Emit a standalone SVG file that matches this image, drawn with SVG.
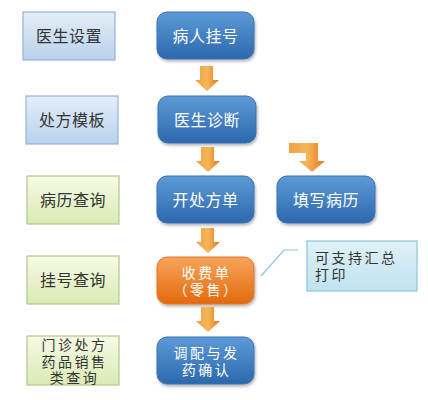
<svg xmlns="http://www.w3.org/2000/svg" width="428" height="400" viewBox="0 0 428 400">
<defs>
<linearGradient id="gBlue" x1="0" y1="0" x2="0" y2="1"><stop offset="0" stop-color="#5d9ad6"/><stop offset="1" stop-color="#2c68ae"/></linearGradient>
<linearGradient id="gOrange" x1="0" y1="0" x2="0" y2="1"><stop offset="0" stop-color="#f8a55a"/><stop offset="1" stop-color="#e2690e"/></linearGradient>
<linearGradient id="gLB" x1="0" y1="0" x2="0" y2="1"><stop offset="0" stop-color="#e4eef8"/><stop offset="1" stop-color="#b9d1ec"/></linearGradient>
<linearGradient id="gLG" x1="0" y1="0" x2="0" y2="1"><stop offset="0" stop-color="#f6fae6"/><stop offset="1" stop-color="#dbeab4"/></linearGradient>
<linearGradient id="gCall" x1="0" y1="0" x2="0" y2="1"><stop offset="0" stop-color="#e0f1f8"/><stop offset="1" stop-color="#c0e2ef"/></linearGradient>
<linearGradient id="gArr" x1="0" y1="0" x2="1" y2="0"><stop offset="0" stop-color="#f0a040"/><stop offset="0.5" stop-color="#f6b55a"/><stop offset="1" stop-color="#e27a1a"/></linearGradient>
<filter id="sh" x="-10%" y="-10%" width="125%" height="130%"><feDropShadow dx="1" dy="2" stdDeviation="1.5" flood-color="#000" flood-opacity="0.3"/></filter>
</defs>
<style>
.lb{fill:url(#gLB);stroke:#95b3d7;stroke-width:1.2}
.lg{fill:url(#gLG);stroke:#b3c98a;stroke-width:1.2}
.bl{fill:url(#gBlue);stroke:#3a72b4;stroke-width:1}
.or{fill:url(#gOrange);stroke:#e0782a;stroke-width:1}
.cl{fill:url(#gCall);stroke:#8cc3da;stroke-width:1.2}
text{font-family:"Noto Sans CJK SC","Noto Sans CJK JP",sans-serif;font-size:16px;text-anchor:middle;letter-spacing:0.5px}
.sm{font-size:14px;letter-spacing:2.5px}
.dk{fill:#333}
.wt{fill:#fff}
.arr{fill:url(#gArr)}
</style>
<g id="n-yishengshezhi"><rect class="lb" x="23" y="12" width="92" height="48"/><text class="dk" x="69" y="42">医生设置</text></g>
<g id="n-chufangmoban"><rect class="lb" x="26" y="96" width="92" height="48"/><text class="dk" x="72" y="126">处方模板</text></g>
<g id="n-binglichaxun"><rect class="lg" x="27" y="176" width="92" height="48"/><text class="dk" x="73" y="206">病历查询</text></g>
<g id="n-guahaochaxun"><rect class="lg" x="27" y="256" width="92" height="48"/><text class="dk" x="73" y="286">挂号查询</text></g>
<g id="n-menzhen"><rect class="lg" x="27" y="336" width="92" height="49"/><text class="dk sm" x="74.500" y="350"><tspan x="74.500">门诊处方</tspan><tspan x="74.500" dy="16.5">药品销售</tspan><tspan x="74.500" dy="16.5">类查询</tspan></text></g>
<g id="n-bingrenguahao"><rect class="bl" filter="url(#sh)" x="157" y="12" width="97" height="47" rx="10"/><text class="wt" x="205.500" y="41.500">病人挂号</text></g>
<g id="n-yishengzhenduan"><rect class="bl" filter="url(#sh)" x="158" y="96" width="98" height="47" rx="10"/><text class="wt" x="207" y="125.500">医生诊断</text></g>
<g id="n-kaichufangdan"><rect class="bl" filter="url(#sh)" x="157" y="176" width="97" height="47" rx="10"/><text class="wt" x="205.500" y="205.500">开处方单</text></g>
<g id="n-tianxiebingli"><rect class="bl" filter="url(#sh)" x="277" y="176" width="98" height="47" rx="10"/><text class="wt" x="326" y="205.500">填写病历</text></g>
<g id="n-shoufeidan"><rect class="or" filter="url(#sh)" x="157" y="257" width="97" height="47" rx="10"/><text class="wt sm" x="206.500" y="278"><tspan x="206.500">收费单</tspan><tspan x="206.500" dy="16.5">（零售）</tspan></text></g>
<g id="n-tiaopei"><rect class="bl" filter="url(#sh)" x="157" y="337" width="97" height="47" rx="10"/><text class="wt sm" x="206.500" y="358"><tspan x="206.500">调配与发</tspan><tspan x="206.500" dy="16.5">药确认</tspan></text></g>
<g id="n-callout"><rect class="cl" x="307" y="241" width="110" height="50"/><text class="dk sm" x="315" y="263" style="text-anchor:start"><tspan x="315">可支持汇总</tspan><tspan x="315" dy="16.5">打印</tspan></text></g>
<g id="connectors">
<path class="arr" d="M200 66 H213 V80 H219 L207 91 L195 80 H200 Z"/>
<path class="arr" d="M201 147 H214 V161 H220 L208 172 L196 161 H201 Z"/>
<path class="arr" d="M289 143 H318 V161 H325 L312 172 L299 161 H306 V153 H289 Z"/>
<path class="arr" d="M201 228 H214 V242 H220 L208 253 L196 242 H201 Z"/>
<path class="arr" d="M201 307 H214 V321 H220 L208 332 L196 321 H201 Z"/>
<polyline points="261,276 284,250 298,250" fill="none" stroke="#8fc6dc" stroke-width="1.2"/>
</g>
</svg>
